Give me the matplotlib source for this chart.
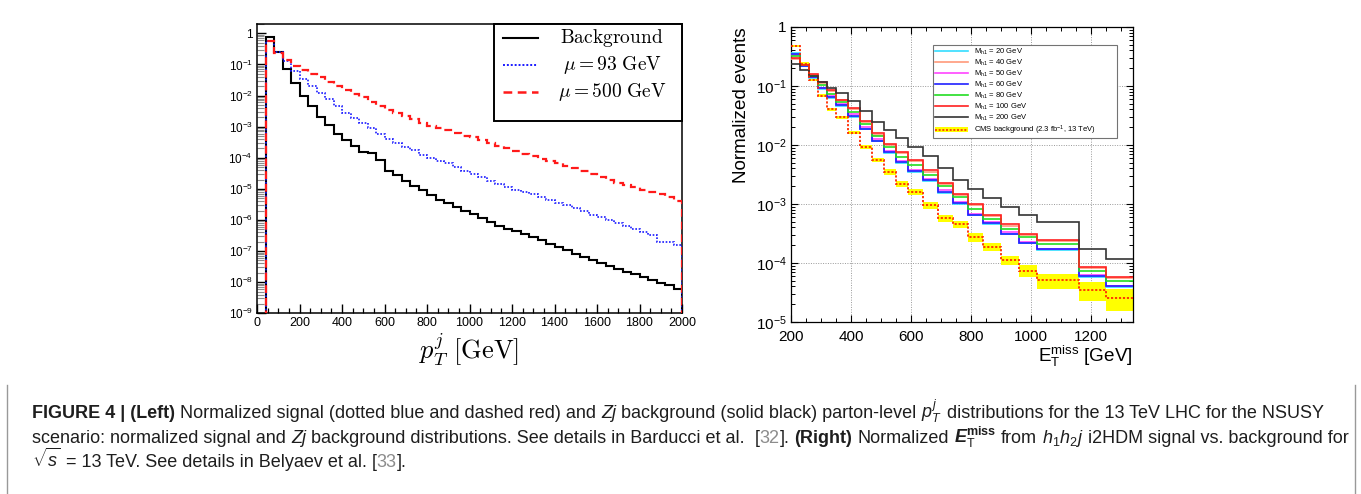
import numpy as np
import matplotlib
matplotlib.use("Agg")
import matplotlib.pyplot as plt
from matplotlib import ticker
from matplotlib.lines import Line2D
from matplotlib.patches import Rectangle, Patch

plt.rcParams['font.family'] = ['Liberation Sans', 'DejaVu Sans']
plt.rcParams['mathtext.fontset'] = 'custom'
plt.rcParams['mathtext.rm'] = 'Liberation Sans'
plt.rcParams['mathtext.it'] = 'Liberation Sans:italic'
plt.rcParams['mathtext.bf'] = 'Liberation Sans:bold'
plt.rcParams['mathtext.sf'] = 'Liberation Sans:bold:italic'

# ---------------- left panel data: parton-level pT^j (40 GeV bins from 40 to 2000) ----------------
pt_edges = np.arange(40, 2001, 40)
bkg_zj = [0.74, 0.25, 0.072, 0.026, 0.0100, 0.0046, 0.0020, 0.00110, 0.00058, 0.00038,
          0.00024, 0.000150, 0.000145, 8.5e-5, 3.7e-5, 2.8e-5, 1.8e-5, 1.26e-5, 8.9e-6, 6.2e-6,
          4.4e-6, 3.5e-6, 2.6e-6, 1.95e-6, 1.55e-6, 1.15e-6, 8.5e-7, 6.6e-7, 5.3e-7, 4.3e-7,
          3.5e-7, 2.8e-7, 2.2e-7, 1.7e-7, 1.35e-7, 1.05e-7, 8.2e-8, 6.7e-8, 5.3e-8, 4.2e-8,
          3.4e-8, 2.75e-8, 2.2e-8, 1.8e-8, 1.42e-8, 1.16e-8, 9.6e-9, 7.9e-9, 5.9e-9]
sig_mu93 = [0.56, 0.25, 0.13, 0.063, 0.035, 0.021, 0.012, 0.0076, 0.0045, 0.0028,
            0.0019, 0.00132, 8.9e-4, 6.0e-4, 4.0e-4, 3.0e-4, 2.3e-4, 1.74e-4, 1.26e-4, 9.5e-5,
            7.6e-5, 6.6e-5, 5.0e-5, 3.8e-5, 3.1e-5, 2.4e-5, 1.86e-5, 1.48e-5, 1.17e-5, 9.5e-6,
            7.9e-6, 6.6e-6, 5.4e-6, 4.5e-6, 3.6e-6, 2.95e-6, 2.35e-6, 1.9e-6, 1.5e-6, 1.26e-6,
            1.0e-6, 7.9e-7, 6.3e-7, 5.1e-7, 4.2e-7, 3.3e-7, 2.0e-7, 2.0e-7, 1.6e-7]
sig_mu500 = [0.57, 0.24, 0.14, 0.089, 0.068, 0.050, 0.040, 0.028, 0.021, 0.015,
             0.0112, 0.0087, 0.0063, 0.0047, 0.0035, 0.00275, 0.0022, 0.00174, 0.00135, 0.00105,
             8.9e-4, 7.6e-4, 6.3e-4, 5.2e-4, 4.5e-4, 3.8e-4, 3.0e-4, 2.45e-4, 2.0e-4, 1.62e-4,
             1.32e-4, 1.10e-4, 9.1e-5, 7.6e-5, 6.6e-5, 5.5e-5, 4.6e-5, 3.8e-5, 3.1e-5, 2.5e-5,
             2.0e-5, 1.58e-5, 1.32e-5, 1.12e-5, 9.5e-6, 8.1e-6, 6.8e-6, 5.6e-6, 4.2e-6]
left_legend = ['Background', r'\mu = 93\ \mathrm{GeV}', r'\mu = 500\ \mathrm{GeV}']

# ---------------- right panel data: E_T^miss (CMS binning) ----------------
met_edges = [200, 230, 260, 290, 320, 350, 390, 430, 470, 510, 550, 590, 640, 690, 740,
             790, 840, 900, 960, 1020, 1160, 1250, 1340]
mass_labels = ['20', '40', '50', '60', '80', '100', '200']
met_m20 = [0.36, 0.218, 0.138, 0.089, 0.063, 0.046, 0.030, 0.0186, 0.0115, 0.0074, 0.0049,
           0.0035, 0.0025, 0.00155, 0.00099, 6.4e-4, 4.6e-4, 3.1e-4, 2.15e-4, 1.68e-4, 5.9e-5, 3.9e-5]
met_m40 = [0.29, 0.225, 0.155, 0.112, 0.082, 0.057, 0.040, 0.0245, 0.0150, 0.0100, 0.0072,
           0.0053, 0.0035, 0.0022, 0.00140, 9.5e-4, 6.3e-4, 4.3e-4, 3.0e-4, 2.4e-4, 8.1e-5, 5.5e-5]
met_m50 = [0.34, 0.225, 0.144, 0.094, 0.067, 0.049, 0.033, 0.020, 0.0124, 0.0080, 0.0054,
           0.0038, 0.0027, 0.00170, 0.00107, 6.9e-4, 4.9e-4, 3.3e-4, 2.3e-4, 1.75e-4, 6.2e-5, 4.1e-5]
met_m60 = [0.347, 0.221, 0.141, 0.091, 0.065, 0.047, 0.031, 0.019, 0.0117, 0.0076, 0.0051,
           0.0036, 0.0026, 0.00162, 0.00102, 6.6e-4, 4.7e-4, 3.16e-4, 2.2e-4, 1.7e-4, 6.0e-5, 4.0e-5]
met_m80 = [0.324, 0.229, 0.148, 0.102, 0.072, 0.054, 0.036, 0.0229, 0.0141, 0.0093, 0.0063,
           0.0045, 0.0031, 0.00204, 0.00129, 8.3e-4, 5.6e-4, 3.8e-4, 2.75e-4, 2.1e-4, 7.4e-5, 5.0e-5]
met_m100 = [0.295, 0.229, 0.158, 0.115, 0.085, 0.059, 0.042, 0.0257, 0.0158, 0.0105, 0.0076,
            0.0056, 0.0037, 0.0023, 0.00148, 0.00100, 6.6e-4, 4.5e-4, 3.16e-4, 2.5e-4, 8.5e-5, 5.75e-5]
met_m200 = [0.236, 0.186, 0.145, 0.115, 0.091, 0.076, 0.056, 0.038, 0.025, 0.0178, 0.0132,
            0.0093, 0.0065, 0.0040, 0.00257, 0.00178, 0.00126, 8.9e-4, 6.5e-4, 4.9e-4, 1.74e-4, 1.15e-4]
cms_bkg = [0.48, 0.24, 0.126, 0.069, 0.040, 0.0295, 0.0162, 0.0093, 0.0056, 0.0035, 0.0022,
           0.00162, 9.5e-4, 5.75e-4, 4.5e-4, 2.75e-4, 1.9e-4, 1.12e-4, 7.4e-5, 5.1e-5, 3.5e-5, 2.6e-5]
cms_rel_unc = [0.05, 0.05, 0.05, 0.06, 0.06, 0.06, 0.07, 0.08, 0.09, 0.10, 0.11,
               0.12, 0.12, 0.13, 0.14, 0.16, 0.17, 0.18, 0.23, 0.30, 0.35, 0.40]
mass_series = [met_m20, met_m40, met_m50, met_m60, met_m80, met_m100, met_m200]
mass_colors = ['#33ddff', '#ff9a7a', '#ff44ff', '#2020ff', '#22dd22', '#ff2020', '#333333']

# ---------------- figure ----------------
W, H = 1361, 494
fig = plt.figure(figsize=(W / 100, H / 100), dpi=100)
fig.patch.set_facecolor('white')


def px_axes(x0, y0, x1, y1):
    return [x0 / W, 1 - y1 / H, (x1 - x0) / W, (y1 - y0) / H]


def log_fmt(v, pos):
    if v <= 0:
        return ''
    e = int(round(np.log10(v)))
    if abs(v - 10.0 ** e) > 1e-6 * 10.0 ** e:
        return ''
    return '1' if e == 0 else r'$10^{%d}$' % e


# ---------- left panel ----------
ax1 = fig.add_axes(px_axes(257, 24, 682, 313.3))
ax1.set_yscale('log')
ax1.stairs(bkg_zj, pt_edges, baseline=1e-12, color='black', lw=1.5, zorder=3)
ax1.stairs(sig_mu93, pt_edges, baseline=1e-12, color='#1a1aff', lw=1.2,
           linestyle=(0, (1, 1)), zorder=4)
ax1.stairs(sig_mu500, pt_edges, baseline=1e-12, color='#ff1a1a', lw=1.6,
           linestyle=(0, (3.5, 2.2)), zorder=5)
ax1.set_xlim(0, 2000)
ax1.set_ylim(1e-9, 2.0)
ax1.xaxis.set_major_locator(ticker.MultipleLocator(200))
ax1.xaxis.set_minor_locator(ticker.MultipleLocator(50))
ax1.yaxis.set_major_locator(ticker.LogLocator(base=10, numticks=20))
ax1.yaxis.set_minor_locator(ticker.LogLocator(base=10, subs=np.arange(2, 10), numticks=20))
ax1.yaxis.set_major_formatter(ticker.FuncFormatter(log_fmt))
ax1.yaxis.set_minor_formatter(ticker.NullFormatter())
ax1.tick_params(which='both', direction='in', top=False, right=False)
ax1.tick_params(axis='x', which='major', length=6.5, width=1.0, labelsize=9, pad=2.5)
ax1.tick_params(axis='x', which='minor', length=3.5, width=0.9)
ax1.tick_params(axis='y', which='major', length=6.5, width=1.0, labelsize=8.5, pad=3)
ax1.tick_params(axis='y', which='minor', length=5, width=0.8, color='0.55')
for sp in ax1.spines.values():
    sp.set_linewidth(1.1)
ax1.text(0.5, 1 - (349 - 24) / (313.3 - 24), r'$p_T^j\ [\mathrm{GeV}]$', transform=ax1.transAxes,
         ha='center', va='center', fontsize=19, math_fontfamily='cm')

# custom legend (left)
lx0 = (494 - 257) / 425.0
ly0 = (313.3 - 121) / 289.3
ax1.add_patch(Rectangle((lx0, ly0), 1 - lx0, 1 - ly0, transform=ax1.transAxes, facecolor='white',
                        edgecolor='black', lw=1.4, zorder=8, clip_on=False))
leg_rows_y = [38.3, 65.0, 91.7]
leg_styles = [dict(color='black', lw=1.5, ls='-'),
              dict(color='#1a1aff', lw=1.4, ls=(0, (1, 1))),
              dict(color='#ff1a1a', lw=1.8, ls=(0, (3.5, 2.2)))]
for yy, st, lab in zip(leg_rows_y, leg_styles, left_legend):
    yf = (313.3 - yy) / 289.3
    ax1.add_line(Line2D([(503 - 257) / 425.0, (538 - 257) / 425.0], [yf, yf], transform=ax1.transAxes,
                        zorder=9, clip_on=False, **st))
    ax1.text((612 - 257) / 425.0, yf, r'$\mathrm{%s}$' % lab if lab == 'Background' else r'$%s$' % lab,
             transform=ax1.transAxes, ha='center', va='center', fontsize=14,
             math_fontfamily='cm', zorder=9)

# ---------- right panel ----------
ax2 = fig.add_axes(px_axes(791, 27, 1133, 322))
ax2.set_yscale('log')
cms_arr = np.array(cms_bkg)
unc = np.array(cms_rel_unc)
ax2.stairs(cms_arr * (1 + unc), met_edges, baseline=cms_arr * (1 - unc), fill=True,
           color='#ffff00', lw=0, zorder=2)
ax2.stairs(cms_bkg, met_edges, baseline=None, color='#ff2a00', lw=1.3,
           linestyle=(0, (1.2, 1.0)), zorder=10)
order = [6, 0, 1, 2, 3, 4, 5]
for i in order:
    ax2.stairs(mass_series[i], met_edges, baseline=None, color=mass_colors[i], lw=1.2, zorder=4 + i * 0.1)
ax2.set_xlim(200, 1340)
ax2.set_ylim(1e-5, 1)
ax2.xaxis.set_major_locator(ticker.MultipleLocator(200))
ax2.xaxis.set_minor_locator(ticker.MultipleLocator(50))
ax2.yaxis.set_major_locator(ticker.LogLocator(base=10, numticks=20))
ax2.yaxis.set_minor_locator(ticker.LogLocator(base=10, subs=np.arange(2, 10), numticks=20))
ax2.yaxis.set_major_formatter(ticker.FuncFormatter(log_fmt))
ax2.yaxis.set_minor_formatter(ticker.NullFormatter())
ax2.tick_params(which='both', direction='in', top=True, right=True)
ax2.tick_params(which='major', length=5, width=0.8, labelsize=11)
ax2.tick_params(which='minor', length=3, width=0.7)
ax2.tick_params(axis='x', which='major', pad=5.5)
ax2.tick_params(axis='y', which='major', pad=3)
ax2.grid(True, which='major', color='0.6', lw=0.7, linestyle=(0, (1, 1.5)))
ax2.set_axisbelow(True)
for sp in ax2.spines.values():
    sp.set_linewidth(0.9)
ax2.text((741 - 791) / 342.0, 1.0, 'Normalized events', transform=ax2.transAxes, rotation=90,
         ha='center', va='top', fontsize=13.6)
ax2.text(1.0, 1 - (356 - 27) / 295.0, r'E$_{\mathrm{T}}^{\mathrm{miss}}$ [GeV]', transform=ax2.transAxes,
         ha='right', va='center', fontsize=13.6)

leg_handles = [Line2D([], [], color=c, lw=1.2) for c in mass_colors]
leg_handles.append((Patch(facecolor='#ffff00', edgecolor='none'),
                    Line2D([], [], color='#ff2a00', lw=1.2, ls=(0, (1.2, 1.0)))))
leg_labels = [r'M$_{\mathrm{h1}}$ = %s GeV' % m for m in mass_labels] + \
             [r'CMS background (2.3 fb$^{-1}$, 13 TeV)']
leg = ax2.legend(leg_handles, leg_labels, loc='upper left',
                 bbox_to_anchor=((933 - 791) / 342.0, 0, (1117 - 933) / 342.0, (322 - 45) / 295.0),
                 mode='expand', borderaxespad=0, fontsize=5.5, handlelength=4.3,
                 handletextpad=0.8, labelspacing=0.1, borderpad=0.22, frameon=True,
                 fancybox=False, edgecolor='0.45', framealpha=1)
leg.get_frame().set_linewidth(0.8)
leg.set_zorder(20)

# ---------- caption ----------
txt_c = '#1e1e1e'
styles = {
    'r': dict(color=txt_c),
    'b': dict(color=txt_c, fontweight='bold'),
    'i': dict(color=txt_c, fontstyle='italic'),
    'g': dict(color='#8c8c8c'),
    'm': dict(color=txt_c),
}
caption_lines = [
    [("FIGURE 4 | (Left)", 'b', 0), ("Normalized signal (dotted blue and dashed red) and", 'r', 1),
     ("Zj", 'i', 1), ("background (solid black) parton-level", 'r', 1), (r"$p_T^j$", 'm', 1),
     ("distributions for the 13 TeV LHC for the NSUSY", 'r', 1)],
    [("scenario: normalized signal and", 'r', 0), ("Zj", 'i', 1),
     ("background distributions. See details in Barducci et al.", 'r', 1), ("[", 'r', 2), ("32", 'g', 0),
     ("].", 'r', 0), ("(Right)", 'b', 1), ("Normalized", 'r', 1),
     (r"$\mathsf{E}_{\mathrm{T}}^{\mathbf{miss}}$", 'm', 1), ("from", 'r', 1), (r"$h_1h_2j$", 'm', 1),
     ("i2HDM signal vs. background for", 'r', 1)],
    [(r"$\sqrt{s}$", 'm', 0), ("= 13 TeV. See details in Belyaev et al.", 'r', 1), ("[", 'r', 1),
     ("33", 'g', 0), ("].", 'r', 0)],
]
caption_baselines = [418, 442.5, 467]
renderer = fig.canvas.get_renderer()


def measure(s, size, st):
    t = fig.text(0, 0.5, s, fontsize=size, **styles[st])
    w = t.get_window_extent(renderer).width
    t.remove()
    return w


def line_width(tokens, size):
    sp = measure('a a', size, 'r') - measure('aa', size, 'r')
    return sum(measure(s, size, st) + gap * sp for s, st, gap in tokens)


size0 = 10.0
cap_size = size0 * (1348 - 32) / line_width(caption_lines[1], size0)
space_w = measure('a a', cap_size, 'r') - measure('aa', cap_size, 'r')
for tokens, yb in zip(caption_lines, caption_baselines):
    x = 32.0
    for s, st, gap in tokens:
        x += gap * space_w
        t = fig.text(x / W, 1 - yb / H, s, fontsize=cap_size, ha='left', va='baseline', **styles[st])
        x = t.get_window_extent(renderer).x1

# caption box side rules
for xx in (7, 1355):
    fig.add_artist(Line2D([xx / W, xx / W], [0, 1 - 385 / H], transform=fig.transFigure,
                          color='0.6', lw=1.0))

fig.savefig('out.png', dpi=100)
